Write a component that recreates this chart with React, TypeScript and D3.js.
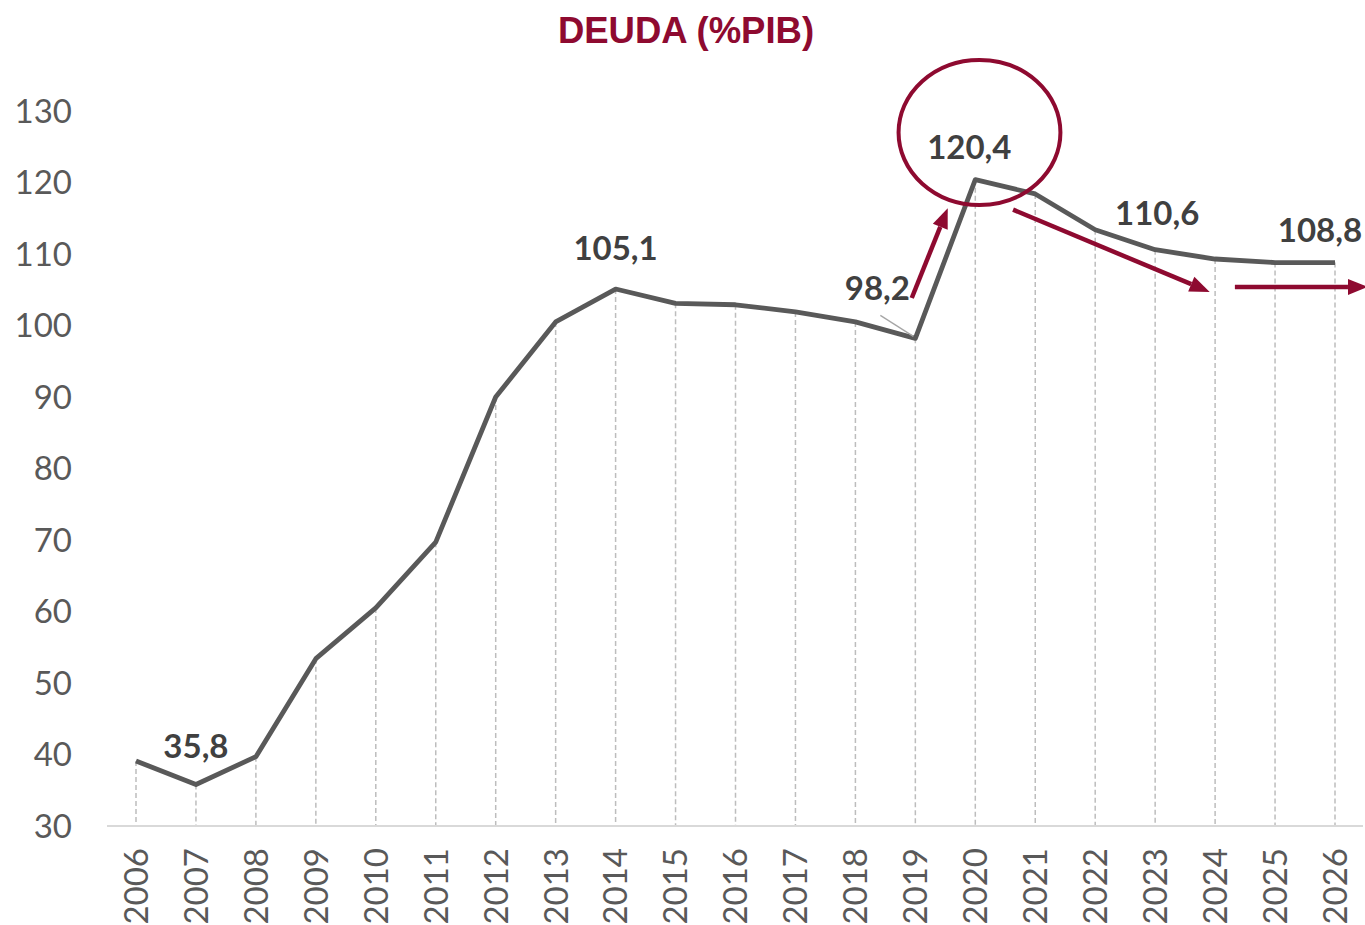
import React from 'react';
import * as d3 from 'd3';

const years = [2006, 2007, 2008, 2009, 2010, 2011, 2012, 2013, 2014, 2015, 2016, 2017, 2018, 2019, 2020, 2021, 2022, 2023, 2024, 2025, 2026];
const debt = [39.1, 35.8, 39.7, 53.4, 60.5, 69.7, 90.0, 100.5, 105.1, 103.1, 102.9, 101.9, 100.5, 98.2, 120.4, 118.4, 113.4, 110.6, 109.3, 108.8, 108.8];
const yTicks = [30, 40, 50, 60, 70, 80, 90, 100, 110, 120, 130];

// labelled points: year, text, offset of label in px
const labels = [
  { year: 2007, text: '35,8', dx: 0, dy: -27 },
  { year: 2014, text: '105,1', dx: 0, dy: -29 },
  { year: 2019, text: '98,2', dx: -38, dy: -38 },
  { year: 2020, text: '120,4', dx: -6, dy: -21 },
  { year: 2023, text: '110,6', dx: 2, dy: -25 },
  { year: 2026, text: '108,8', dx: -15, dy: -21 },
];

// annotation arrows in data space [year, value]
const arrows = [
  { from: [2018.94, 103.85], to: [2019.54, 116.4] },
  { from: [2020.63, 116.2], to: [2023.91, 104.7] },
  { from: [2024.33, 105.4], to: [2026.55, 105.4] },
];
const ring = { year: 2020.07, value: 127.0, rYears: 1.35, rValue: 10.14 };

const RED = '#8E0A30';
const GREY = '#595959';
const FONT = 'Lato, "Noto Sans", sans-serif';

export default function App() {
  const width = 1365;
  const height = 925;

  const x = d3.scaleLinear().domain([2006, 2026]).range([136, 1335]);
  const y = d3.scaleLinear().domain([30, 130]).range([826, 111]);

  const line = d3.line<number>()
    .x((_, i) => x(years[i]))
    .y(d => y(d));

  const arrowPath = (a: { from: number[]; to: number[] }) => {
    const x1 = x(a.from[0]), y1 = y(a.from[1]);
    const x2 = x(a.to[0]), y2 = y(a.to[1]);
    const ang = Math.atan2(y2 - y1, x2 - x1);
    const hl = 20, hw = 8;
    const bx = x2 - hl * Math.cos(ang), by = y2 - hl * Math.sin(ang);
    const px = -Math.sin(ang), py = Math.cos(ang);
    return {
      shaft: `M${x1},${y1}L${bx},${by}`,
      head: `M${x2},${y2}L${bx + px * hw},${by + py * hw}L${bx - px * hw},${by - py * hw}Z`,
    };
  };

  const p2019 = { x: x(2019), y: y(debt[years.indexOf(2019)]) };

  return (
    <svg width={width} height={height} style={{ position: 'absolute', left: 0, top: 0, background: '#fff' }}>
      <text x={686} y={43} textAnchor="middle" fontFamily='"Liberation Sans", Arial, sans-serif'
        fontWeight="bold" fontSize={36.5} fill={RED}>DEUDA (%PIB)</text>

      {yTicks.map(t => (
        <text key={t} x={72} y={y(t)} dy="0.36em" textAnchor="end" fontFamily={FONT}
          fontSize={33} fill={GREY}>{t}</text>
      ))}

      {years.map((yr, i) => (
        <line key={yr} x1={x(yr)} x2={x(yr)} y1={y(debt[i])} y2={y(30)}
          stroke="#bdbdbd" strokeWidth={1.5} strokeDasharray="5,3" />
      ))}

      <line x1={107} x2={1363} y1={y(30)} y2={y(30)} stroke="#d9d9d9" strokeWidth={2} />

      {years.map(yr => (
        <text key={yr} transform={`translate(${x(yr)},848) rotate(-90)`} dy="0.36em" textAnchor="end"
          fontFamily={FONT} fontSize={33} fill={GREY}>{yr}</text>
      ))}

      <path d={line(debt) || ''} fill="none" stroke={GREY} strokeWidth={4.8} strokeLinejoin="round" />

      <line x1={p2019.x - 35} y1={p2019.y - 23} x2={p2019.x - 2} y2={p2019.y - 2} stroke="#a6a6a6" strokeWidth={1.3} />

      {labels.map(l => {
        const i = years.indexOf(l.year);
        return (
          <text key={l.year} x={x(l.year) + l.dx} y={y(debt[i]) + l.dy} textAnchor="middle"
            fontFamily={FONT} fontWeight="bold" fontSize={33} fill="#404040">{l.text}</text>
        );
      })}

      <ellipse cx={x(ring.year)} cy={y(ring.value)}
        rx={x(2006 + ring.rYears) - x(2006)} ry={y(30) - y(30 + ring.rValue)}
        fill="none" stroke={RED} strokeWidth={4} />

      {arrows.map((a, i) => {
        const p = arrowPath(a);
        return (
          <g key={i}>
            <path d={p.shaft} stroke={RED} strokeWidth={4.5} fill="none" />
            <path d={p.head} fill={RED} />
          </g>
        );
      })}
    </svg>
  );
}
